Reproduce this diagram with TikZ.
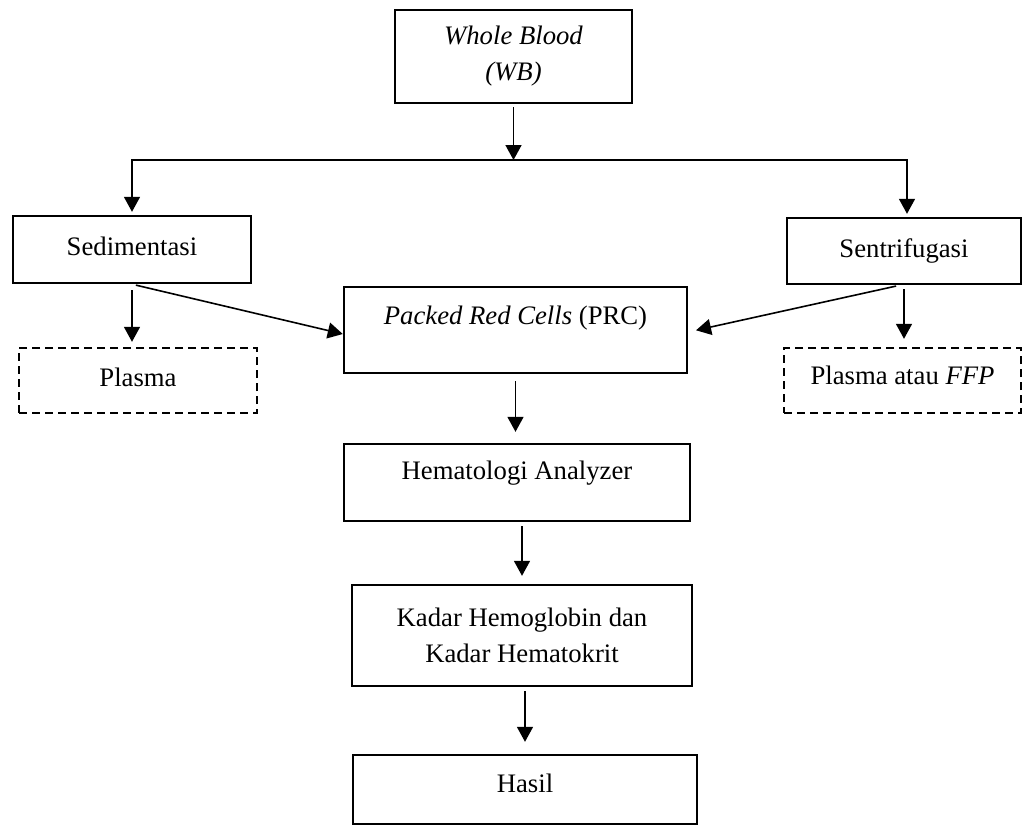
\documentclass[tikz,border=0pt]{standalone}
\usepackage{fontspec}
\setmainfont{Liberation Serif}
\usetikzlibrary{arrows.meta}

\begin{document}
\begin{tikzpicture}[color=black, x=0.5pt, y=-0.5pt,
  box/.style={draw, line width=1.2pt, inner sep=0pt, font=\fontsize{13.35pt}{18pt}\selectfont},
  dbox/.style={box, dash pattern=on 4pt off 2.5pt},
  arr/.style={line width=0.8pt, -{Triangle[width=8pt,length=7.5pt]}}]

\useasboundingbox (0,0) rectangle (1023,826);

\node (wb) at (513.5,56.5)[box, align=center, minimum width=118.5pt, minimum height=46.5pt]{\textit{Whole Blood}\\\textit{(WB)}};

\node (sed) at (132,249.5)[box, minimum width=119pt, text height=19.5pt, text depth=14pt]{Sedimentasi};
\node (sen) at (904,251)[box, minimum width=117pt, text height=19.5pt, text depth=13.5pt]{Sentrifugasi};

\node (pa) at (138,380.5)[dbox, minimum width=119pt, text height=19pt, text depth=13.5pt]{Plasma};
\node (pb) at (902.5,380.5)[dbox, minimum width=118.5pt, text height=18pt, text depth=14.5pt]{Plasma atau \textit{FFP}};

\node (prc) at (515.5,330)[box, minimum width=171.5pt, text height=18.5pt, text depth=24.5pt]{\textit{Packed Red Cells} (PRC)};
\node (hem) at (517,482.5)[box, minimum width=173pt, text height=17.5pt, text depth=21pt]{Hematologi Analyzer};
\node (kadar) at (522,635.5)[box, align=center, minimum width=170pt, minimum height=50.5pt]{Kadar Hemoglobin dan\\Kadar Hematokrit};
\node (hasil) at (525,789.5)[box, minimum width=172pt, text height=18.5pt, text depth=16pt]{Hasil};

% cabang dari whole blood
\coordinate (split) at (513.5,160);
\draw[arr, shorten <=1.5pt] (wb.south) -- (split);
\draw[arr, shorten >=1.5pt] (split) -| (sed.north);
\draw[arr, shorten >=1.5pt] (split) -| ([xshift=1.5pt]sen.north);

\draw[arr, shorten <=3pt, shorten >=2.5pt] (sed.south) -- (sed.south |- pa.north);
\draw[arr, shorten <=2pt] (sed.south) -- ([yshift=-2pt]prc.west);
\draw[arr, shorten <=2pt, shorten >=4pt] (sen.south) -- (sen.south |- pb.north);
\draw[arr, shorten <=2pt, shorten >=4pt] ([xshift=-2pt]sen.south) -- ([yshift=-1pt]prc.east);

\draw[arr, shorten <=3.5pt, shorten >=5.5pt] (prc.south) -- (prc.south |- hem.north);
\draw[arr, shorten <=2pt, shorten >=4pt] (kadar.north |- hem.south) -- (kadar.north);
\draw[arr, shorten <=2pt, shorten >=6pt] (hasil.north |- kadar.south) -- (hasil.north);

\end{tikzpicture}
\end{document}
